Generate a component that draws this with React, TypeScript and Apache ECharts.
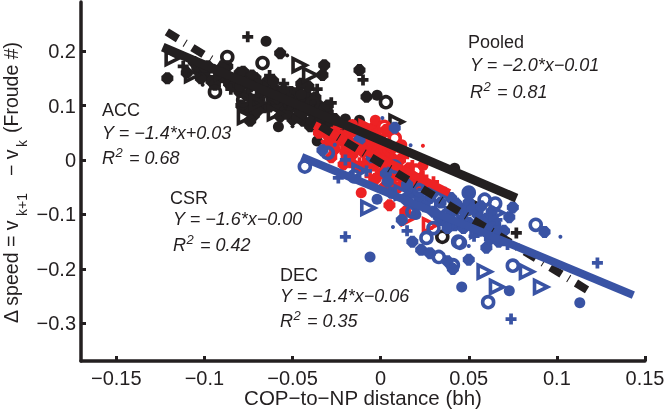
import React, { useEffect, useRef } from "react";
import * as echarts from "echarts";

const INK = "#231f20";
const RED = "#ed2224";
const BLUE = "#3953a4";

const xTicks = [-0.15, -0.1, -0.05, 0, 0.05, 0.1, 0.15];
const yTicks = [-0.3, -0.2, -0.1, 0, 0.1, 0.2];

const accFit = [[-0.1236, 0.207], [0.0771, -0.07]];
const csrFit = [[-0.0374, 0.064], [0.039, -0.0606]];
const decFit = [[-0.0448, 0.0055], [0.1434, -0.248]];
const pooledFit = [[-0.1213, 0.235], [0.12, -0.244]];

const accBlob = [[-0.121,0.15],[-0.057,0.196],[-0.032,0.174],[-0.033,0.156],[-0.012,0.165],[-0.008,0.116],[-0.104,0.17],[-0.1,0.158],[-0.096,0.145],[-0.09,0.152],[-0.086,0.14],[-0.082,0.148],[-0.078,0.162],[-0.074,0.135],[-0.071,0.15],[-0.068,0.125],[-0.065,0.142],[-0.062,0.112],[-0.06,0.13],[-0.072,0.105],[-0.076,0.095],[-0.072,0.082],[-0.066,0.097],[-0.058,0.118],[-0.054,0.105],[-0.051,0.125],[-0.048,0.11],[-0.046,0.093],[-0.042,0.118],[-0.038,0.085],[-0.035,0.1],[-0.032,0.07],[-0.03,0.088],[-0.05,0.075],[-0.044,0.072],[-0.056,0.09],[-0.08,0.125],[-0.07,0.09],[-0.026,0.075],[-0.022,0.062],[-0.04,0.062],[-0.11,0.16],[-0.106,0.18],[-0.102,0.15],[-0.098,0.172],[-0.094,0.138],[-0.091,0.165],[-0.087,0.172],[-0.084,0.135],[-0.08,0.16],[-0.077,0.14],[-0.076,0.118],[-0.073,0.155],[-0.069,0.112],[-0.067,0.135],[-0.064,0.124],[-0.063,0.098],[-0.061,0.145],[-0.059,0.104],[-0.057,0.08],[-0.055,0.128],[-0.053,0.085],[-0.052,0.112],[-0.049,0.098],[-0.047,0.078],[-0.045,0.106],[-0.043,0.09],[-0.041,0.1],[-0.039,0.072],[-0.037,0.115],[-0.034,0.078],[-0.033,0.092],[-0.03,0.1],[-0.028,0.066],[-0.079,0.1],[-0.074,0.072],[-0.041,0.135],[-0.045,0.14]];
const accPlus = [[-0.0754,0.226],[-0.01,0.147],[-0.112,0.172],[-0.094,0.162],[-0.085,0.13],[-0.07,0.118],[-0.063,0.155],[-0.055,0.14],[-0.047,0.13],[-0.04,0.105],[-0.036,0.13],[-0.028,0.105],[0.077,-0.134]];
const accDot = [[-0.065,0.218],[-0.058,0.061],[-0.002,0.119],[-0.036,0.035],[-0.1,0.17],[-0.08,0.135],[-0.052,0.1],[-0.02,0.075],[-0.012,0.073],[0.042,-0.015],[-0.07,0.14],[-0.045,0.12]];
const accRing = [[-0.087,0.189],[-0.067,0.178],[-0.094,0.125],[-0.0385,0.105],[0.003,0.106],[0.035,-0.141],[-0.072,0.125],[-0.06,0.115],[-0.078,0.11]];
const accTri = [[-0.118,0.187],[-0.107,0.156],[-0.077,0.079],[-0.06,0.086],[-0.046,0.174],[-0.04,0.156],[0.055,-0.086],[0.009,0.07],[-0.09,0.16],[-0.07,0.105]];
const accTiny = [[-0.053,0.192],[-0.101,0.138],[-0.05,0.062]];

const csrBlob = [[0.005,-0.083],[-0.03,0.045],[-0.025,0.035],[-0.02,0.03],[-0.016,0.01],[-0.012,0.025],[-0.026,0.02],[-0.008,0.04],[-0.004,0.02],[0,0.03],[0.004,0.005],[0.008,-0.01],[0.012,-0.025],[0.016,-0.015],[0.02,-0.045],[-0.018,0.05],[-0.01,0.06],[-0.004,-0.01],[0,-0.025],[0.005,-0.04],[0.01,-0.05],[-0.021,-0.008],[-0.028,0.005],[0.014,-0.095],[-0.035,0.05],[-0.03,0.03],[-0.027,0.05],[-0.023,0.045],[-0.02,0.015],[-0.018,0.035],[-0.015,0.03],[-0.013,0.05],[-0.01,0.015],[-0.008,0.025],[-0.006,0.035],[-0.003,0.045],[-0.001,0.01],[0.002,0.02],[0.003,-0.01],[0.006,0.005],[0.009,-0.02],[0.011,0],[0.013,-0.035],[0.015,-0.03],[0.018,-0.03],[0.022,-0.04],[0.025,-0.045],[0.028,-0.05],[-0.017,-0.004],[-0.012,-0.015],[-0.007,-0.005],[-0.003,-0.035],[0.002,-0.05],[0.007,-0.058],[-0.004,0.06],[0.003,0.055]];
const csrPlus = [[-0.034,0.055],[-0.024,0.06],[-0.014,0.045],[-0.006,0.05],[0.002,0.045],[0.007,0.02],[0.013,0.005],[0.018,-0.01],[0.024,-0.03],[0.03,-0.04],[-0.012,-0.005],[-0.006,-0.03],[0.008,-0.035]];
const csrDot = [[-0.003,0.073],[-0.011,-0.06],[-0.016,0.065],[0.012,0.028],[0.006,-0.028],[-0.02,0.04],[0.024,-0.01]];
const csrRing = [[0.002,0.061],[0.008,0.04],[-0.028,0.04],[-0.01,0.045],[0.005,0.02],[0.02,-0.02]];
const csrTri = [[0.016,-0.106],[-0.018,0.012],[-0.008,0.06],[-0.006,0.005],[0.01,0.01],[0.028,-0.12]];
const csrTiny = [[0.024,0.026],[0.029,-0.125],[-0.033,0.034],[0.002,0.016]];

const decBlob = [[0.008,0.059],[-0.012,0.037],[-0.033,0.018],[0.012,-0.11],[0.093,-0.132],[0.05,-0.183],[0.038,-0.186],[0.06,-0.161],[0.073,-0.105],[0.018,-0.15],[0.023,-0.165],[0.028,-0.171],[0.041,-0.2],[0.015,-0.075],[0.02,-0.085],[0.028,-0.07],[0.034,-0.078],[0.04,-0.07],[0.045,-0.088],[0.05,-0.078],[0.055,-0.1],[0.06,-0.108],[0.065,-0.118],[0.07,-0.13],[0.03,-0.095],[0.035,-0.11],[0.042,-0.12],[0.05,-0.115],[0.056,-0.13],[0.062,-0.145],[0.068,-0.14],[-0.005,0.005],[0.003,-0.025],[0.015,-0.045],[0.018,-0.06],[0.022,-0.07],[0.025,-0.085],[0.03,-0.06],[0.033,-0.105],[0.036,-0.06],[0.038,-0.125],[0.04,-0.095],[0.043,-0.08],[0.047,-0.125],[0.048,-0.095],[0.052,-0.09],[0.054,-0.12],[0.057,-0.085],[0.058,-0.115],[0.061,-0.125],[0.063,-0.095],[0.066,-0.13],[0.067,-0.15],[0.075,-0.087],[0.004,-0.04],[0.006,-0.06]];
const decPlus = [[-0.024,-0.033],[-0.02,-0.141],[0.123,-0.189],[0.074,-0.292],[-0.02,0.0],[-0.008,-0.02],[0.024,-0.055],[0.046,-0.105],[0.053,-0.14],[0.066,-0.11],[0.072,-0.155],[0.015,-0.13]];
const decDot = [[-0.006,-0.178],[0.046,-0.233],[0.073,-0.24],[0.113,-0.262],[-0.002,-0.072],[0.03,-0.05],[0.05,-0.06],[0.02,-0.1]];
const decRing = [[-0.043,-0.012],[-0.03,0.013],[0.088,-0.119],[0.075,-0.194],[0.061,-0.261],[0.059,-0.073],[0.045,-0.152],[0.033,-0.178],[0.041,-0.193],[0.026,-0.143],[0.044,-0.15],[0.008,-0.012],[0.022,-0.055],[0.03,-0.125],[0.05,-0.06],[0.065,-0.08],[0.018,-0.095],[0.038,-0.1],[-0.015,-0.03]];
const decTri = [[-0.007,-0.088],[0.059,-0.205],[0.083,-0.205],[0.091,-0.233],[0.066,-0.233],[0.066,-0.097],[0.055,-0.13],[0.035,-0.09],[0.012,-0.06],[0.045,-0.11],[-0.012,-0.02]];
const decTiny = [[0.001,0.077],[0.017,0.027],[0.007,-0.123],[0.102,-0.141],[0.05,-0.158],[-0.026,0.028]];

const SYMBOL_TRI = "path://M0,0L10,5.5L0,11Z";
const SYMBOL_PLUS = "path://M3.3,0L6.7,0L6.7,3.3L10,3.3L10,6.7L6.7,6.7L6.7,10L3.3,10L3.3,6.7L0,6.7L0,3.3L3.3,3.3Z";
const SYMBOL_BLOB = "path://M3,0L7,0L7,10L3,10ZM0,3L10,3L10,7L0,7ZM0.4,3L3,0.4L9.6,7L7,9.6ZM0.4,7L7,0.4L9.6,3L3,9.6Z";

function marks(color: string, blob: number[][], plus: number[][], dot: number[][], ring: number[][], tri: number[][], tiny: number[][]) {
  const base = { type: "scatter", silent: true, clip: false };
  const hollow = { color: "transparent", borderColor: color, opacity: 1 };
  const solid = { color, opacity: 1 };
  return [
    { ...base, data: blob, symbol: SYMBOL_BLOB, symbolSize: 12, itemStyle: solid },
    { ...base, data: plus, symbol: SYMBOL_PLUS, symbolSize: 11, itemStyle: solid },
    { ...base, data: dot, symbol: "circle", symbolSize: 11, itemStyle: solid },
    { ...base, data: ring, symbol: "circle", symbolSize: 11, itemStyle: { ...hollow, borderWidth: 3.6 } },
    { ...base, data: tri, symbol: SYMBOL_TRI, symbolSize: 13, itemStyle: { ...hollow, borderWidth: 3.6 } },
    { ...base, data: tiny, symbol: "circle", symbolSize: 4, itemStyle: solid },
  ];
}

function fit(data: number[][], color: string, width: number, dash?: number[]) {
  return {
    type: "line", data, silent: true, symbol: "none",
    lineStyle: { color, width, cap: "butt", type: dash ?? "solid", opacity: 1 },
  };
}

const FONT = "'Liberation Sans', Arial, sans-serif";
const txt = (text: string, x: number, y: number, size = 18, italic = false) => ({
  type: "text", x, y,
  style: { text, fill: INK, font: `${italic ? "italic " : ""}${size}px ${FONT}`, textVerticalAlign: "middle" },
});

function block(name: string, nx: number, ny: number, eq: string, ex: number, ey: number, r2: string, ry: number) {
  return [
    txt(name, nx, ny),
    txt(eq, ex, ey, 18, true),
    txt("R", ex, ry, 18, true),
    txt("2", ex + 13.5, ry - 6, 13, true),
    txt(r2, ex + 22, ry, 18, true),
  ];
}

const yTitle = {
  type: "group", x: 21, y: 323, rotation: Math.PI / 2,
  children: [
    ["Δ speed = v", 0, 19.5, 0],
    ["k+1", 107, 14, 8],
    ["− v", 147, 19.5, 0],
    ["k", 176, 14, 8],
    ["(Froude #)", 190, 19.5, 0],
  ].map(([text, x, size, dy]) => ({
    type: "text", x, y: dy,
    style: { text, fill: INK, font: `${size}px ${FONT}`, textVerticalAlign: "bottom" },
  })),
};

const fmt = (v: number) => String(v).replace("-", "−");

export default function App() {
  const ref = useRef<HTMLDivElement>(null);
  useEffect(() => {
    const chart = echarts.init(ref.current!, null, { renderer: "svg" });
    const axisCommon = {
      type: "value", splitLine: { show: false },
      axisLine: { show: true, onZero: false, lineStyle: { color: INK, width: 3.5 } },
    };
    const tick = (v: number[]) => ({ show: true, inside: true, length: 5, customValues: v, lineStyle: { color: INK, width: 3 } });
    const label = (v: number[], margin: number) => ({
      customValues: v, formatter: fmt, color: INK, fontFamily: FONT, fontSize: 20, margin, showMinLabel: true, showMaxLabel: true,
    });
    chart.setOption({
      animation: false,
      grid: { left: 81, right: 21, top: 2, bottom: 50, outerBoundsMode: "none" },
      xAxis: {
        ...axisCommon, min: -0.17, max: 0.15,
        axisTick: tick(xTicks), axisLabel: label(xTicks, 7),
        name: "COP−to−NP distance (bh)", nameLocation: "middle", nameGap: 26, nameMoveOverlap: false,
        nameTextStyle: { color: INK, fontFamily: FONT, fontSize: 20.5 },
      },
      yAxis: {
        ...axisCommon, min: -0.369, max: 0.29,
        axisTick: tick(yTicks), axisLabel: label(yTicks, 5),
      },
      graphic: { elements: [
        yTitle,
        ...block("ACC", 102, 110, "Y = −1.4*x+0.03", 102, 133, " = 0.68", 158),
        ...block("CSR", 170, 198, "Y = −1.6*x−0.00", 173, 219, " = 0.42", 245),
        ...block("DEC", 280, 275, "Y = −1.4*x−0.06", 280, 296, " = 0.35", 321),
        ...block("Pooled", 468, 42, "Y = −2.0*x−0.01", 470, 65, " = 0.81", 92),
      ] },
      series: [
        ...marks(INK, accBlob, accPlus, accDot, accRing, accTri, accTiny),
        ...marks(RED, csrBlob, csrPlus, csrDot, csrRing, csrTri, csrTiny),
        ...marks(BLUE, decBlob, decPlus, decDot, decRing, decTri, decTiny),
        fit(csrFit, RED, 8),
        fit(pooledFit, INK, 8, [13, 8, 1, 8]),
        fit(decFit, BLUE, 8),
        fit(accFit, INK, 9),
      ],
    });
    return () => chart.dispose();
  }, []);
  return <div ref={ref} style={{ position: "fixed", left: 0, top: 0, width: 666, height: 411 }} />;
}
